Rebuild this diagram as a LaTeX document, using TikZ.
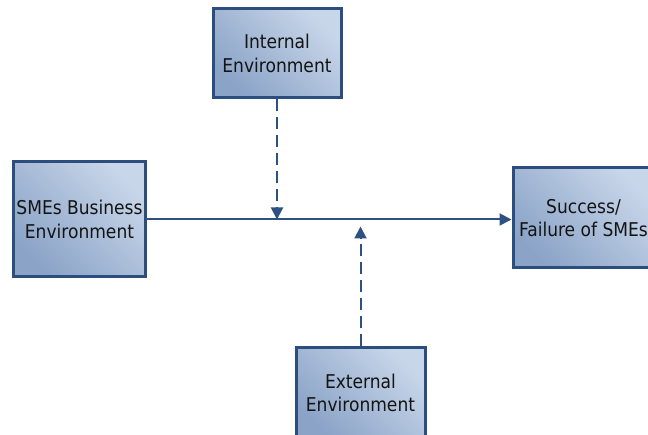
\documentclass[tikz,border=0pt]{standalone}
\usepackage{fontspec}
\setmainfont{DejaVu Sans Condensed}
\usetikzlibrary{arrows.meta,shadows}
\definecolor{boxedge}{HTML}{2C4E7E}
\definecolor{boxdark}{HTML}{8AA3C7}
\definecolor{boxlight}{HTML}{C8D6E9}
\definecolor{flow}{HTML}{2D5183}
\tikzset{
  factor/.style={draw=boxedge, line width=3pt, shade, top color=boxlight,
    bottom color=boxdark, shading angle=-45, align=center,
    font=\fontsize{19}{23.5}\selectfont, text=black!92, inner sep=0pt,
    drop shadow={shadow xshift=1.5pt, shadow yshift=-1.5pt, opacity=0.25}},
  link/.style={draw=flow, line width=2pt, -{Triangle[length=12pt,width=12pt]}},
  influence/.style={link, dash pattern=on 12pt off 6pt}
}
\begin{document}
\begin{tikzpicture}[x=1pt,y=-1pt]
\useasboundingbox (0,0) rectangle (648,435);
\begin{scope}
\clip (0,0) rectangle (648,435);
\node[factor, minimum width=128pt, minimum height=89pt] (internal) at (277,53.5) {Internal\\Environment};
\node[factor, minimum width=132pt, minimum height=115pt] (business) at (79.5,219.5) {SMEs Business\\Environment};
\node[factor, minimum width=141pt, minimum height=100pt] (outcome) at (583.5,218) {Success/\\Failure of SMEs};
\node[factor, minimum width=129pt, minimum height=90pt] (external) at (360.5,393) {External\\Environment};
\end{scope}
\coordinate (hitA) at (internal.south |- business.east);
\coordinate (hitB) at ([yshift=-7pt]external.north |- business.east);
\draw[link] (business.east) -- (outcome.west |- business.east);
\draw[influence] (internal.south) -- (hitA);
\draw[influence] (external.north) -- (hitB);
\end{tikzpicture}
\end{document}
